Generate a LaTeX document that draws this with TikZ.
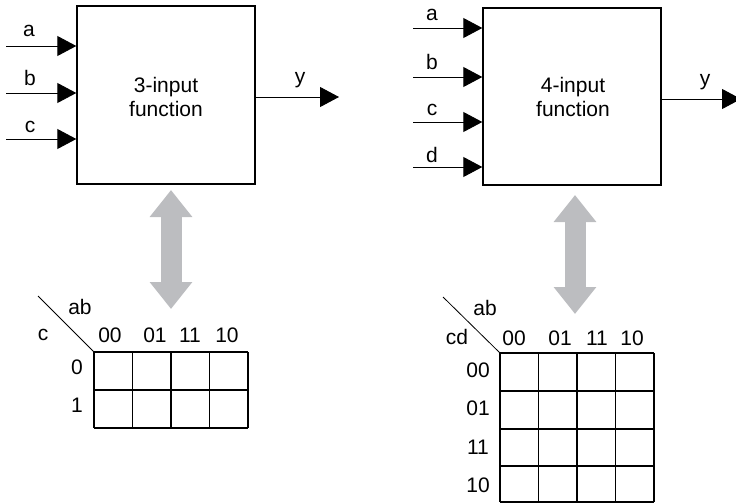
\documentclass[tikz,border=0pt]{standalone}
\usepackage{fontspec}
\setmainfont{Liberation Sans}
\usetikzlibrary{arrows.meta}
\definecolor{arrowgray}{RGB}{188,189,192}
\begin{document}
\begin{tikzpicture}[x=1pt,y=-1pt,
  every node/.style={font=\fontsize{21}{24}\selectfont, inner sep=0pt},
  fbox/.style={draw, line width=1.4pt, inner sep=0pt},
  sig/.style={line width=0.9pt, -{Triangle[length=19pt,width=20pt]}},
  bigarrow/.style={draw=arrowgray, line width=21pt, {Triangle[length=27pt,width=41pt]}-{Triangle[length=27pt,width=41pt]}},
  kgrid/.style={line width=1.2pt},
  diag/.style={line width=0.8pt}]
\useasboundingbox (0,0) rectangle (736,503);
\clip (0,0) rectangle (736,503);
% ---------- left: 3-input ----------
\node[fbox, minimum width=178pt, minimum height=178pt] (f3) at (166,95) {};
\node[align=center] (f3t) at (166,97) {3-input\\function};
\coordinate (a3) at (6,46);
\coordinate (b3) at (6,93);
\coordinate (c3) at (6,139);
\draw[sig] (a3) -- (a3 -| f3.west);
\draw[sig] (b3) -- (b3 -| f3.west);
\draw[sig] (c3) -- (c3 -| f3.west);
\node (la3) at (29,31) {a};
\node (lb3) at (30,78) {b};
\node (lc3) at (30,127) {c};
\coordinate (y3) at (339,97);
\draw[sig] (y3 -| f3.east) -- (y3);
\node (ly3) at (300,80) {y};
% gray double arrow
\coordinate (g3a) at (171,190);
\coordinate (g3b) at (171,309);
\draw[bigarrow] (g3a) -- (g3b);
% K-map 3
\draw[diag] (38,296) -- (94,352);
\node (kab3) at (80,307) {ab};
\node (kc3) at (43,335) {c};
\node (k3c1) at (110,335) {00};
\node (k3c2) at (155,335) {01};
\node (k3c3) at (190,335) {11};
\node (k3c4) at (227,335) {10};
\node (k3r1) at (77,367) {0};
\node (k3r2) at (77,405) {1};
\foreach \x in {94,132.5,171,209.5,248} \draw[kgrid] (\x,352) -- (\x,428);
\foreach \y in {352,390,428} \draw[kgrid] (94,\y) -- (248,\y);
% ---------- right: 4-input ----------
\node[fbox, minimum width=178pt, minimum height=177pt] (f4) at (572,96.5) {};
\node[align=center] (f4t) at (573,97) {4-input\\function};
\coordinate (a4) at (413,28);
\coordinate (b4) at (413,77);
\coordinate (c4) at (413,122);
\coordinate (d4) at (413,167);
\draw[sig] (a4) -- (a4 -| f4.west);
\draw[sig] (b4) -- (b4 -| f4.west);
\draw[sig] (c4) -- (c4 -| f4.west);
\draw[sig] (d4) -- (d4 -| f4.west);
\node (la4) at (432,15) {a};
\node (lb4) at (432,62) {b};
\node (lc4) at (432,110) {c};
\node (ld4) at (432,155) {d};
\coordinate (y4) at (741,99);
\draw[sig] (y4 -| f4.east) -- (y4);
\node (ly4) at (705,82) {y};
\coordinate (g4a) at (575,195);
\coordinate (g4b) at (575,314);
\draw[bigarrow] (g4a) -- (g4b);
% K-map 4
\draw[diag] (443,297) -- (500,353);
\node (kab4) at (485,308) {ab};
\node (kcd4) at (457,337) {cd};
\node (k4c1) at (514,338) {00};
\node (k4c2) at (560,338) {01};
\node (k4c3) at (597,338) {11};
\node (k4c4) at (632,338) {10};
\node (k4r1) at (478,370) {00};
\node (k4r2) at (478,408) {01};
\node (k4r3) at (478,447) {11};
\node (k4r4) at (478,485) {10};
\foreach \x in {500,538.5,577,615.5,654} \draw[kgrid] (\x,353) -- (\x,502);
\foreach \y in {353,391,429,466,502} \draw[kgrid] (500,\y) -- (654,\y);
\end{tikzpicture}
\end{document}
